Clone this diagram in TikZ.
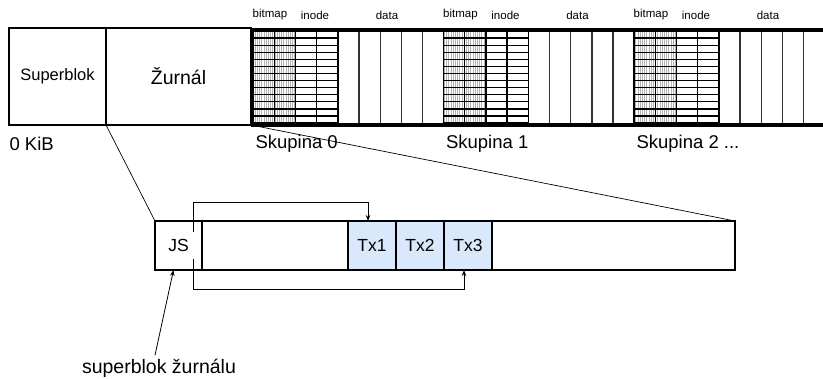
\documentclass[tikz,border=0pt]{standalone}
\usepackage{fontspec}
\setmainfont{Liberation Sans}
\usetikzlibrary{arrows.meta, positioning, patterns.meta}

\definecolor{txmodra}{HTML}{DAE8FC}
\newcommand{\tecky}{...}

\begin{document}
\begin{tikzpicture}[x=1pt, y=-1pt]
    \tikzset{
        blok/.style = {rectangle, draw, line width=2pt, outer sep=0pt, inner sep=0pt, minimum height=97pt},
        zblok/.style = {rectangle, draw, line width=1.6pt, outer sep=0pt, inner sep=0pt, minimum height=49pt, minimum width=48pt, font=\fontsize{17.5}{17.5}\selectfont},
        tx/.style = {zblok, fill=txmodra},
        popisek/.style = {font=\fontsize{11.5}{11.5}\selectfont},
        skupina/.style = {anchor=west, font=\fontsize{18.5}{18.5}\selectfont},
        sipka/.style = {draw, line width=0.8pt, -{Stealth[length=6pt, width=4.5pt]}}
    }
    \useasboundingbox (0,0) rectangle (823,378);

    % horni rada
    \node[blok, minimum width=97pt, anchor=north west, font=\fontsize{16.5}{16.5}\selectfont] (superblok) at (9,28) {Superblok};
    \node[blok, minimum width=145pt, right=0pt of superblok, font=\fontsize{19.5}{19.5}\selectfont] (zurnal) {Žurnál};
    \node[skupina] (kib) at (6,144) {0 KiB};

    % skupiny bloku
    \foreach \g/\jm in {0/Skupina 0, 1/Skupina 1, 2/Skupina 2 \tecky} {
        \pgfmathsetmacro{\xo}{253 + 190.5*\g}
        \fill[pattern={Lines[angle=90, distance=2.2pt, line width=1pt]}, pattern color=gray!60] (\xo,31) rectangle ++(42.4,92);
        \foreach \r in {0,...,13} {
            \draw[line width=1.3pt] (\xo,31+7.08*\r) -- ++(84.8,0);
        }
        \foreach \c in {0,...,4} {
            \draw[line width=1.4pt] (\xo+21.2*\c,31) -- ++(0,92);
        }
        \foreach \c in {5,...,8} {
            \draw[line width=1.4pt, black!80] (\xo+21.2*\c,31) -- ++(0,92);
        }
        \node[popisek] (bitmap\g) at (\xo+17,15) {bitmap};
        \node[popisek] (inode\g) at (\xo+62,15) {inode};
        \node[popisek] (data\g) at (\xo+134,15) {data};
        \node[skupina] (skupina\g) at (\xo-1,144) {\jm};
    }
    \draw[line width=4pt] (251,30) -- (823,30);
    \draw[line width=4pt] (251,124.5) -- (823,124.5);

    % zurnal
    \node[zblok, minimum width=580pt, anchor=north west] (pas) at (155,221) {};
    \node[zblok, anchor=north west, minimum width=47pt] (js) at (155,221) {JS};
    \node[tx, anchor=north west] (tx1) at (348,221) {Tx1};
    \node[tx, right=0pt of tx1] (tx2) {Tx2};
    \node[tx, right=0pt of tx2] (tx3) {Tx3};

    \draw[line width=0.7pt] (superblok.south east) -- (pas.north west);
    \draw[line width=0.7pt] (zurnal.south east) -- (pas.north east);

    \coordinate (jsh) at (193,232);
    \coordinate (jsd) at (193,259);
    \coordinate (horni) at (193,202);
    \coordinate (dolni) at (193,289);
    \path[sipka] (jsh) -- (horni) -| ([xshift=-4pt]tx1.north);
    \path[sipka] (jsd) -- (dolni) -| ([xshift=-4pt]tx3.south);

    \node[font=\fontsize{19.5}{19.5}\selectfont] (sbz) at (159,368) {superblok žurnálu};
    \path[sipka] ([xshift=-4pt]sbz.north) -- ([xshift=-5pt]js.south);
\end{tikzpicture}
\end{document}
